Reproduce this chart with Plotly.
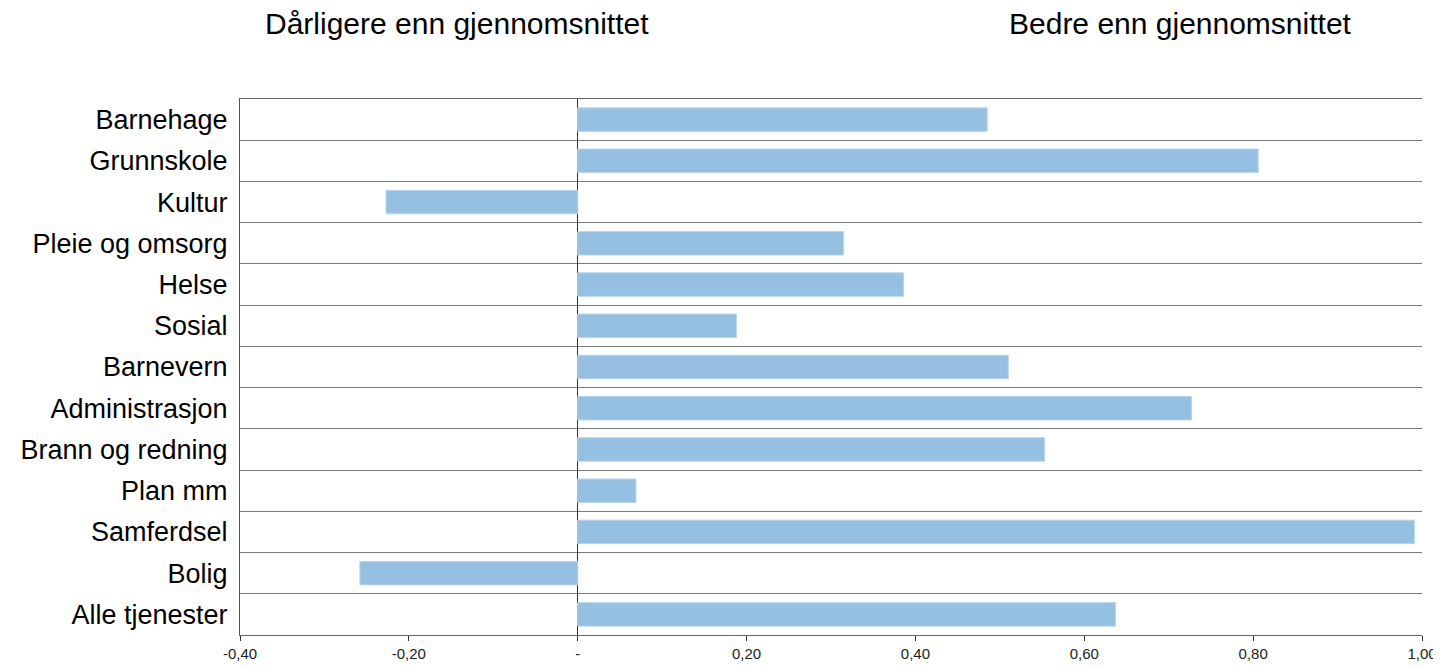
import plotly.graph_objects as go

categories = ["Barnehage", "Grunnskole", "Kultur", "Pleie og omsorg", "Helse", "Sosial",
              "Barnevern", "Administrasjon", "Brann og redning", "Plan mm", "Samferdsel",
              "Bolig", "Alle tjenester"]
values = [0.485, 0.806, -0.227, 0.315, 0.386, 0.188, 0.510, 0.727, 0.553, 0.069, 0.991, -0.258, 0.637]
tick_vals = [-0.4, -0.2, 0.0, 0.2, 0.4, 0.6, 0.8, 1.0]
tick_text = ["-0,40", "-0,20", "-", "0,20", "0,40", "0,60", "0,80", "1,00"]
left_title = "Dårligere enn gjennomsnittet"
right_title = "Bedre enn gjennomsnittet"

font_family = "Liberation Sans, Arial, sans-serif"

fig = go.Figure(go.Bar(
    x=values, y=categories, orientation="h",
    marker=dict(color="#95C0E1", line=dict(color="#B8D5EC", width=1)),
    width=0.57,
))

fig.update_layout(
    width=1441, height=666,
    margin=dict(l=231, r=22, t=91, b=33),
    paper_bgcolor="white", plot_bgcolor="white",
    showlegend=False,
    font=dict(family=font_family, color="#000000"),
    xaxis=dict(
        range=[-0.4, 1.0], tickvals=tick_vals, ticktext=tick_text,
        tickfont=dict(size=15, color="#222"), ticks="outside", ticklen=5, tickcolor="#333",
        showline=True, linecolor="#666", linewidth=1, mirror=True,
        showgrid=False, zeroline=True, zerolinecolor="#333", zerolinewidth=1,
    ),
    yaxis=dict(
        type="category", autorange="reversed",
        tickson="boundaries", showgrid=True, gridcolor="#7a7a7a", gridwidth=1,
        ticks="", tickfont=dict(size=27, color="#000"), ticklabelstandoff=6,
        showline=True, linecolor="#555", linewidth=1,
    ),
    annotations=[
        dict(text=left_title, xref="paper", yref="paper", x=0.184, y=1.14,
             xanchor="center", yanchor="middle", showarrow=False,
             font=dict(size=30, color="#000")),
        dict(text=right_title, xref="paper", yref="paper", x=0.7955, y=1.14,
             xanchor="center", yanchor="middle", showarrow=False,
             font=dict(size=30, color="#000")),
    ],
)

fig.write_html("out.html")
